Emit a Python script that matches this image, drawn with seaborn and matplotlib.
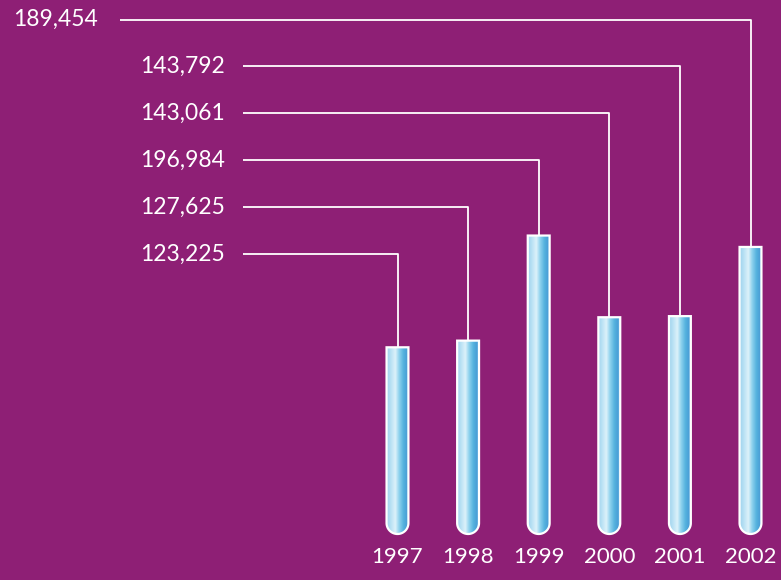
import numpy as np
import pandas as pd
import matplotlib
matplotlib.use("Agg")
import matplotlib.pyplot as plt
import seaborn as sns
from matplotlib.path import Path
from matplotlib.patches import PathPatch
from matplotlib.colors import LinearSegmentedColormap

# ---- data ----
years = ["1997", "1998", "1999", "2000", "2001", "2002"]
values = [123225, 127625, 196984, 143061, 143792, 189454]
value_labels = ["123,225", "127,625", "196,984", "143,061", "143,792", "189,454"]

BG = "#8E1F75"
W, H, DPI = 781, 580, 100

sns.set_style("white")
plt.rcParams["font.family"] = ["Lato", "DejaVu Sans"]

fig = plt.figure(figsize=(W / DPI, H / DPI), dpi=DPI, facecolor=BG)
ax = fig.add_axes([0, 0, 1, 1])
ax.set_facecolor(BG)

df = pd.DataFrame({"year": years, "value": values})
sns.barplot(data=df, x="year", y="value", ax=ax, width=0.31, color="#8CCFEA",
            saturation=1, errorbar=None)

# layout mapping (pixels -> data)
x0_px, dx_px = 397.5, 70.6        # centre of first tube, spacing
base_px, upp = 534.0, 660.0        # pixel row of zero, units per pixel
ax.set_xlim(-x0_px / dx_px, (W - x0_px) / dx_px)
ax.set_ylim(-(H - base_px) * upp, base_px * upp)
ax.axis("off")

def px2x(px):
    return (px - x0_px) / dx_px

def py2y(py):
    return (base_px - py) * upp

cmap = LinearSegmentedColormap.from_list("tube", [
    (0.00, "#9FD3EE"), (0.18, "#B9E1F4"), (0.38, "#DDF2FA"),
    (0.55, "#8FD2EE"), (0.75, "#55B2DE"), (0.90, "#4A9FD6"), (1.00, "#7FC2E8")])

grad = np.tile(np.linspace(0, 1, 256), (64, 1))

for i, p in enumerate(list(ax.patches)):
    x0 = p.get_x()
    w = p.get_width()
    h = p.get_height()
    x1 = x0 + w
    p.set_visible(False)
    r_y = (w / 2) * dx_px * upp   # circular radius in pixels -> y units
    th = np.linspace(np.pi, 2 * np.pi, 40)
    cx = x0 + w / 2
    arc_x = cx + (w / 2) * np.cos(th)
    arc_y = r_y + r_y * np.sin(th)
    verts = [(x0, h)] + list(zip(arc_x, arc_y)) + [(x1, h), (x0, h)]
    codes = [Path.MOVETO] + [Path.LINETO] * (len(verts) - 2) + [Path.CLOSEPOLY]
    path = Path(verts, codes)
    clip = PathPatch(path, facecolor="none", edgecolor="none", transform=ax.transData)
    ax.add_patch(clip)
    im = ax.imshow(grad, cmap=cmap, aspect="auto", extent=(x0, x1, 0, h),
                   origin="lower", zorder=2, interpolation="bilinear")
    im.set_clip_path(clip)
    ax.add_patch(PathPatch(path, facecolor="none", edgecolor="white",
                           linewidth=1.6, zorder=3))

    # leader line and value label
    ly = py2y(254 - 46.9 * i)
    start_px = 120 if i == len(years) - 1 else 243
    text_px = 98 if i == len(years) - 1 else 225
    ax.plot([px2x(start_px), i, i], [ly, ly, h], color="white", lw=1.3,
            zorder=1, solid_capstyle="butt")
    ax.text(px2x(text_px), ly, value_labels[i], color="white", fontsize=16.5,
            ha="right", va="center")
    ax.text(i, py2y(557), years[i], color="white", fontsize=16,
            ha="center", va="center")

ax.set_xlim(-x0_px / dx_px, (W - x0_px) / dx_px)
ax.set_ylim(-(H - base_px) * upp, base_px * upp)
fig.savefig("out.png", dpi=DPI, facecolor=BG)
